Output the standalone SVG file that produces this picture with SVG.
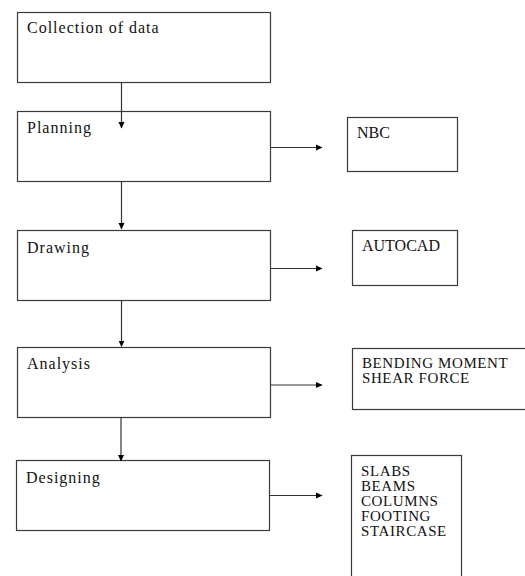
<svg xmlns="http://www.w3.org/2000/svg" width="525" height="576" viewBox="0 0 525 576">
<defs>
<marker id="ah" markerWidth="7" markerHeight="7" refX="6" refY="3.5" orient="auto" markerUnits="userSpaceOnUse">
<path d="M0,0.5 L6.5,3.5 L0,6.5 Z" fill="#000"/>
</marker>
</defs>
<style>
.box{fill:#fff;stroke:#3a3a3a;stroke-width:1.2}
.t{font-family:'Liberation Serif','Times New Roman','DejaVu Serif',serif;font-size:16px;fill:#111}
.w{letter-spacing:1px}
.s{font-size:15px;letter-spacing:0.6px}
.c{stroke:#333;stroke-width:1.2;fill:none}
</style>
<rect width="525" height="576" fill="#fff"/>
<g id="collection"><rect class="box" x="17.5" y="12.5" width="253" height="70"/><text class="t w" x="27" y="33">Collection of data</text></g>
<g id="planning"><rect class="box" x="17.5" y="111.5" width="253" height="70"/><text class="t w" x="27" y="133">Planning</text></g>
<g id="drawing"><rect class="box" x="17.5" y="230.5" width="253" height="70"/><text class="t w" x="27" y="253">Drawing</text></g>
<g id="analysis"><rect class="box" x="17.5" y="347.5" width="253" height="70"/><text class="t w" x="27" y="369">Analysis</text></g>
<g id="designing"><rect class="box" x="16.5" y="460.5" width="253" height="70"/><text class="t w" x="26" y="483">Designing</text></g>
<g id="nbc"><rect class="box" x="347.5" y="117.5" width="110" height="54"/><text class="t" x="357" y="138">NBC</text></g>
<g id="autocad"><rect class="box" x="352.5" y="230.5" width="105" height="55"/><text class="t" x="362" y="251">AUTOCAD</text></g>
<g id="forces"><rect class="box" x="352.5" y="348.5" width="180" height="61"/><text class="t s" x="362" y="368">BENDING MOMENT</text><text class="t s" x="362" y="383">SHEAR FORCE</text></g>
<g id="elements"><rect class="box" x="351.5" y="455.5" width="110" height="130"/><text class="t s" x="361" y="476">SLABS</text><text class="t s" x="361" y="491">BEAMS</text><text class="t s" x="361" y="506">COLUMNS</text><text class="t s" x="361" y="521">FOOTING</text><text class="t s" x="361" y="536">STAIRCASE</text></g>
<g id="connectors">
<line class="c" x1="121.5" y1="82.5" x2="121.5" y2="128" marker-end="url(#ah)"/>
<line class="c" x1="121.5" y1="181.5" x2="121.5" y2="229" marker-end="url(#ah)"/>
<line class="c" x1="121.5" y1="300.5" x2="121.5" y2="346.5" marker-end="url(#ah)"/>
<line class="c" x1="121" y1="417.5" x2="121" y2="461" marker-end="url(#ah)"/>
<line class="c" x1="270.5" y1="147.5" x2="322" y2="147.5" marker-end="url(#ah)"/>
<line class="c" x1="270.5" y1="268.5" x2="322" y2="268.5" marker-end="url(#ah)"/>
<line class="c" x1="270.5" y1="385" x2="322" y2="385" marker-end="url(#ah)"/>
<line class="c" x1="269.5" y1="495.5" x2="322" y2="495.5" marker-end="url(#ah)"/>
</g>
</svg>
